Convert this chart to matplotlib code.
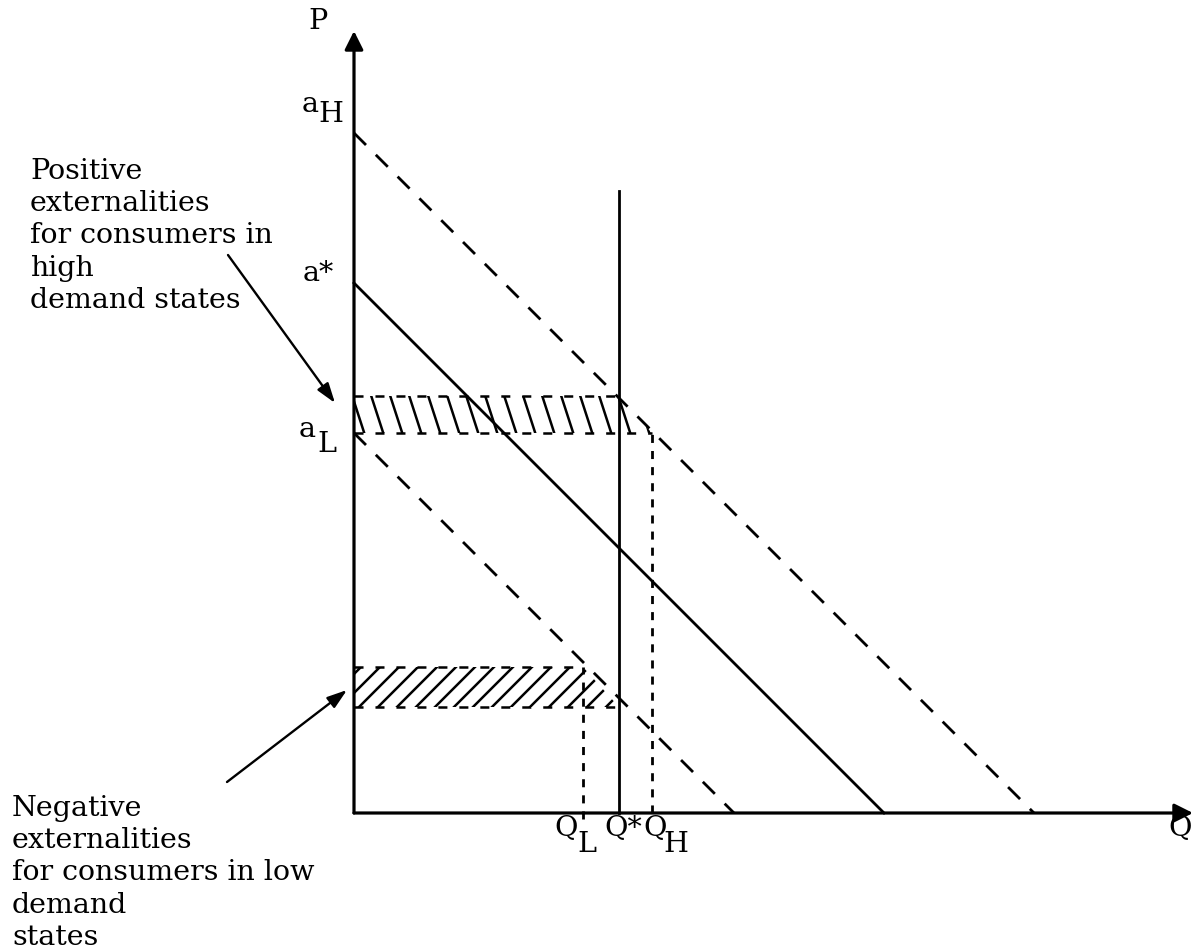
import matplotlib
matplotlib.use("Agg")
import matplotlib.pyplot as plt
import numpy as np
from matplotlib.collections import LineCollection
from matplotlib.patches import Polygon

# demand intercepts (price units), common slope
a_high = 68.0
a_star = 53.0
a_low = 38.0
slope = 1.0

# quantities
q_star = 26.5
q_high = 29.8
q_low = 22.9
q_star_top = 62.2

# price levels bounding the shaded areas
p_pos_top, p_pos_bot = 41.7, 38.0
p_neg_top, p_neg_bot = 14.6, 10.6

pos_text = "Positive\nexternalities\nfor consumers in\nhigh\ndemand states"
neg_text = "Negative\nexternalities\nfor consumers in low\ndemand\nstates"

plt.rcParams['lines.scale_dashes'] = False
plt.rcParams['font.family'] = 'DejaVu Serif'
FS = 20.5

fig = plt.figure(figsize=(11.96, 9.49), dpi=100)
ax = fig.add_axes([0, 0, 1, 1])
ax.set_xlim(-35.4, 84.2)
ax.set_ylim(-13.6, 81.3)
ax.axis('off')

# axes with arrow heads
ax.annotate('', xy=(0, 78.2), xytext=(0, 0),
            arrowprops=dict(arrowstyle='-|>', lw=2.3, color='k', mutation_scale=28,
                            shrinkA=0, shrinkB=0))
ax.annotate('', xy=(83.9, 0), xytext=(0, 0),
            arrowprops=dict(arrowstyle='-|>', lw=2.3, color='k', mutation_scale=28,
                            shrinkA=0, shrinkB=0))

# demand curves
def demand(a):
    q = np.array([0, a / slope])
    return q, a - slope * q

long_dash = (0, (12.2, 10))
q, p = demand(a_high)
ax.plot(q, p, color='k', lw=2.0, linestyle=long_dash)
q, p = demand(a_star)
ax.plot(q, p, color='k', lw=2.0)
q, p = demand(a_low)
ax.plot(q, p, color='k', lw=2.0, linestyle=long_dash)

# Q* supply (vertical)
ax.plot([q_star, q_star], [0, q_star_top], color='k', lw=2.0)

# dotted verticals
dot = (0, (5.8, 5.8))
ax.plot([q_high, q_high], [0, p_pos_bot], color='k', lw=2.0, linestyle=dot)
ax.plot([q_low, q_low], [-0.6, p_neg_top], color='k', lw=2.0, linestyle=dot)

# shaded areas: dashed edges + clipped hatch lines
edge = (0, (6.5, 8.6))
def shaded(top, bot, q_top, q_bot, direction, spacing=1.9):
    ax.plot([0, q_top], [top, top], color='k', lw=1.8, linestyle=edge)
    ax.plot([0, q_bot], [bot, bot], color='k', lw=1.8, linestyle=edge)
    poly = Polygon([(0, top), (q_top, top), (q_bot, bot), (0, bot)],
                   closed=True, fill=False, edgecolor='none', transform=ax.transData)
    ax.add_patch(poly)
    h = top - bot
    dx, dy = direction
    segs = []
    for x0 in np.arange(-10, q_bot + 10, spacing):
        t = (h + 2) / abs(dy)
        y_start = bot - 1 if dy > 0 else top + 1
        segs.append([(x0, y_start), (x0 + dx * t, y_start + dy * t)])
    lc = LineCollection(segs, colors='k', linewidths=1.8)
    ax.add_collection(lc)
    lc.set_clip_path(poly)

shaded(p_pos_top, p_pos_bot, q_star, q_high, (12, -37))
shaded(p_neg_top, p_neg_bot, q_low, q_star, (1, 1))

# annotations
ax.text(-32.4, 65.5, pos_text, fontsize=FS, ha='left', va='top', linespacing=1.25)
ax.text(-34.2, 1.8, neg_text, fontsize=FS, ha='left', va='top', linespacing=1.25)
ax.annotate('', xy=(-1.9, 41.0), xytext=(-12.6, 55.8),
            arrowprops=dict(arrowstyle='-|>,head_length=0.6,head_width=0.2', lw=1.7,
                            color='k', mutation_scale=20, shrinkA=0, shrinkB=0))
ax.annotate('', xy=(-0.7, 12.3), xytext=(-12.7, 3.1),
            arrowprops=dict(arrowstyle='-|>,head_length=0.6,head_width=0.2', lw=1.7,
                            color='k', mutation_scale=20, shrinkA=0, shrinkB=0))

# axis labels
ax.text(-3.6, 79.1, "P", fontsize=FS, ha='center', va='center')
ax.text(82.6, -1.5, "Q", fontsize=FS, ha='center', va='center')

def sub_label(x, y, main, sub, dx=1.8, dy=-1.0):
    ax.text(x, y, main, fontsize=FS, ha='center', va='center')
    if sub:
        ax.text(x + dx, y + dy, sub, fontsize=FS, ha='center', va='center')

sub_label(-4.4, 70.8, "a", "H", dx=2.1, dy=-1.0)
ax.text(-3.6, 53.9, "a*", fontsize=FS, ha='center', va='center')
sub_label(-4.7, 38.3, "a", "L", dx=2.0, dy=-1.5)
sub_label(21.2, -1.6, "Q", "L", dx=2.1, dy=-1.5)
ax.text(26.9, -1.6, "Q*", fontsize=FS, ha='center', va='center')
sub_label(30.1, -1.6, "Q", "H", dx=2.1, dy=-1.5)

fig.savefig("out.png", dpi=100)
